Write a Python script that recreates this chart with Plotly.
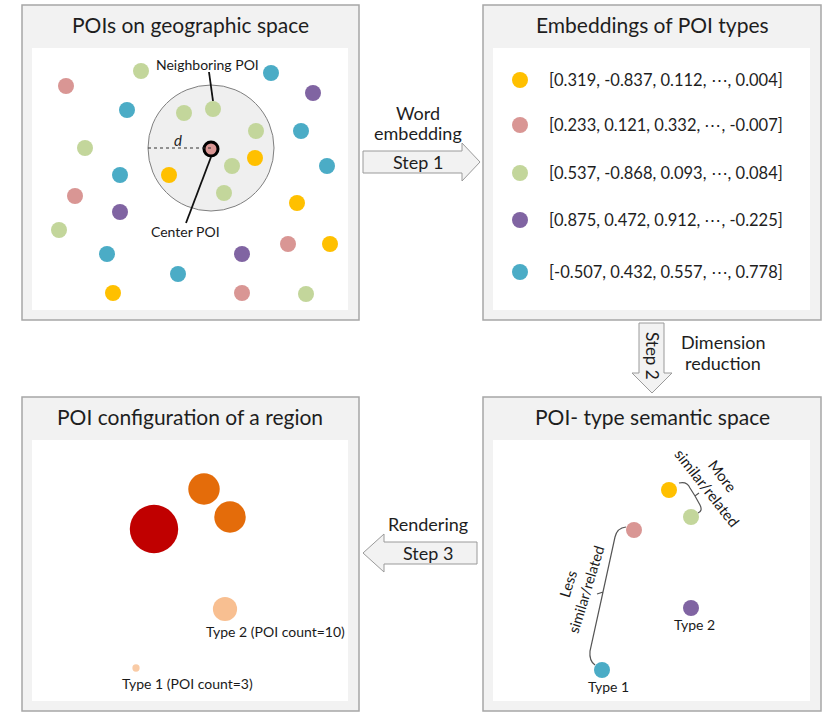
import plotly.graph_objects as go

# ---------------- DATA ----------------
type_names = ["Type 1", "Type 2", "Type 3", "Type 4", "Type 5"]

# POIs on geographic space (canvas pixel coordinates)
geo_x = [141, 66, 271, 313, 127, 184, 213, 256, 301, 85, 255, 232, 169, 327, 120,
         224, 75, 297, 120, 59, 288, 330, 107, 242, 178, 113, 242, 306]
geo_y = [71, 86, 73, 93, 110, 113, 109, 131, 131, 148, 158, 166, 175, 166, 175,
         193, 196, 203, 212, 230, 244, 244, 254, 254, 274, 293, 293, 294]
geo_type = ["Type 5", "Type 4", "Type 1", "Type 2", "Type 1", "Type 5", "Type 5", "Type 5",
            "Type 1", "Type 5", "Type 3", "Type 5", "Type 3", "Type 1", "Type 1", "Type 5",
            "Type 4", "Type 3", "Type 2", "Type 5", "Type 4", "Type 3", "Type 1", "Type 2",
            "Type 1", "Type 3", "Type 4", "Type 5"]
center_x = [211]
center_y = [149]
center_type = ["Type 4"]
radius_d = 63

# Embeddings of POI types
embed_types = ["Type 3", "Type 4", "Type 5", "Type 2", "Type 1"]
embed_vectors = ["[0.319, -0.837, 0.112, \u22ef, 0.004]",
                 "[0.233, 0.121, 0.332, \u22ef, -0.007]",
                 "[0.537, -0.868, 0.093, \u22ef, 0.084]",
                 "[0.875, 0.472, 0.912, \u22ef, -0.225]",
                 "[-0.507, 0.432, 0.557, \u22ef, 0.778]"]
embed_y = [80, 125, 173, 220, 272]

# POI-type semantic space
sem_types = ["Type 3", "Type 5", "Type 4", "Type 2", "Type 1"]
sem_x = [669, 691, 634, 691, 602]
sem_y = [490, 517, 530, 608, 670]

# POI configuration of a region
reg_types = ["Type 4", "Type 3", "Type 5", "Type 2", "Type 1"]
reg_x = [154, 204, 230, 225, 136]
reg_y = [529, 489, 517, 609, 668]
reg_count = [20, 13, 13, 10, 3]

# ---------------- STYLE ----------------
COL = {"Type 1": "#4BACC6", "Type 2": "#8064A2", "Type 3": "#FFC000",
       "Type 4": "#D99694", "Type 5": "#C3D69B"}
FONT = "Lato"
TXT = "#1e1e1e"
LBL = "#1a1a1a"
PANEL_FILL = "#F2F2F2"
PANEL_LINE = "#A6A6A6"
DOT = 16

fig = go.Figure()

# panel 1 dots
for t in type_names:
    xs = [x for x, tt in zip(geo_x, geo_type) if tt == t]
    ys = [y for y, tt in zip(geo_y, geo_type) if tt == t]
    fig.add_trace(go.Scatter(x=xs, y=ys, mode="markers", name=t, showlegend=False,
                             marker=dict(size=DOT, color=COL[t], opacity=1, line=dict(width=0))))
fig.add_trace(go.Scatter(x=center_x, y=center_y, mode="markers", showlegend=False,
                         marker=dict(size=14, color=[COL[t] for t in center_type], opacity=1,
                                     line=dict(width=3, color="black"))))

# panel 2 dots
fig.add_trace(go.Scatter(x=[520] * len(embed_types), y=embed_y, mode="markers", showlegend=False,
                         marker=dict(size=DOT, opacity=1, color=[COL[t] for t in embed_types])))

# panel 4 dots
fig.add_trace(go.Scatter(x=sem_x, y=sem_y, mode="markers", showlegend=False,
                         marker=dict(size=DOT, opacity=1, color=[COL[t] for t in sem_types])))

# panel 3 circles (size & colour from POI count)
fig.add_trace(go.Scatter(
    x=reg_x, y=reg_y, mode="markers", showlegend=False,
    marker=dict(size=reg_count, sizemode="diameter", sizeref=1 / 2.42, opacity=1,
                color=reg_count, cmin=3, cmax=20,
                colorscale=[[0, "#F9CBA6"], [0.5, "#F8BC8C"], [0.55, "#E46C0A"],
                            [0.8, "#E46C0A"], [0.85, "#C00000"], [1, "#C00000"]],
                line=dict(width=0))))

shapes = []
# panels
for (x0, y0, x1, y1) in [(22, 5, 359, 320), (483, 5, 821, 320), (22, 397, 359, 711), (483, 397, 821, 711)]:
    shapes.append(dict(type="rect", x0=x0, y0=y0, x1=x1, y1=y1, layer="below",
                       fillcolor=PANEL_FILL, line=dict(color=PANEL_LINE, width=1.5)))
    shapes.append(dict(type="rect", x0=x0 + 10, y0=y0 + 43, x1=x1 - 11, y1=y1 - 10, layer="below",
                       fillcolor="white", line=dict(width=0)))
# neighbourhood
shapes.append(dict(type="circle", x0=center_x[0] - radius_d, x1=center_x[0] + radius_d,
                   y0=center_y[0] - radius_d - 1, y1=center_y[0] + radius_d - 1, layer="below",
                   fillcolor="#EFEFEF", line=dict(color="#7F7F7F", width=1)))
shapes.append(dict(type="line", x0=center_x[0] - radius_d, x1=center_x[0], y0=148, y1=148,
                   line=dict(color="#333", width=1.2, dash="dot")))
# pointer lines
shapes.append(dict(type="line", x0=209, y0=72, x1=213, y1=101, line=dict(color="#111", width=1.8)))
shapes.append(dict(type="line", x0=211, y0=157, x1=186, y1=223, line=dict(color="#111", width=1.8)))
# arrows
arrow_style = dict(type="path", fillcolor="#F2F2F2", line=dict(color="#9A9A9A", width=1))
shapes.append(dict(arrow_style, path="M363,151 L462,151 L462,143 L480,162 L462,181 L462,173 L363,173 Z"))
shapes.append(dict(arrow_style, path="M639,323 L664,323 L664,373 L672,373 L652,393 L632,373 L639,373 Z"))
shapes.append(dict(arrow_style, path="M477,542 L384,542 L384,534 L363,553 L384,572 L384,564 L477,564 Z"))
# braces
brace = dict(type="path", line=dict(color="#555", width=1.2))
shapes.append(dict(brace, path="M679,483 Q687,481 690,488 L695,496 L699,493 M695,496 L700,505 Q703,511 698,513"))
shapes.append(dict(brace, path="M626,527 Q617,528 615,537 L603,592 L597,594 M603,592 L590,651 Q589,661 595,665"))
fig.update_layout(shapes=shapes)

ann = []
def T(x, y, text, size, angle=0, italic=False, color=TXT, xanchor="center"):
    ann.append(dict(x=x, y=y, xref="x", yref="y", text=("<i>%s</i>" % text) if italic else text,
                    showarrow=False, xanchor=xanchor, yanchor="middle", textangle=angle,
                    font=dict(family=FONT, size=size, color=color)))

T(190, 24, "POIs on geographic space", 21)
T(652, 24, "Embeddings of POI types", 21)
T(190, 416, "POI configuration of a region", 21)
T(652, 416, "POI- type semantic space", 21)
T(207, 64, "Neighboring POI", 14, color=LBL)
T(185, 231, "Center POI", 14, color=LBL)
T(178, 140, "d", 15, italic=True)
for v, y in zip(embed_vectors, embed_y):
    T(547, y, v, 16.5, xanchor="left")
T(418, 113, "Word", 18)
T(418, 133, "embedding", 18)
T(418, 162, "Step 1", 18)
T(723, 342, "Dimension", 18)
T(723, 363, "reduction", 18)
T(653, 356, "Step 2", 17, angle=90)
T(428, 524, "Rendering", 18)
T(428, 553, "Step 3", 18)
T(275, 631, "Type 2 (POI count=10)", 14, color=LBL)
T(187, 683, "Type 1 (POI count=3)", 14, color=LBL)
T(694, 624, "Type 2", 14, color=LBL)
T(608, 686, "Type 1", 14, color=LBL)
T(715, 482, "More<br>similar/related", 15, angle=52, color=LBL)
T(577, 587, "Less<br>similar/related", 14.5, angle=-73, color=LBL)
fig.update_layout(annotations=ann)

fig.update_layout(
    width=838, height=715, margin=dict(l=0, r=0, t=0, b=0),
    paper_bgcolor="white", plot_bgcolor="white",
    xaxis=dict(range=[0, 838], visible=False, fixedrange=True),
    yaxis=dict(range=[715, 0], visible=False, fixedrange=True),
    hovermode=False,
)
fig.write_html("out.html", config={"displayModeBar": False, "staticPlot": True},
               post_script="document.body.style.margin='0';")
